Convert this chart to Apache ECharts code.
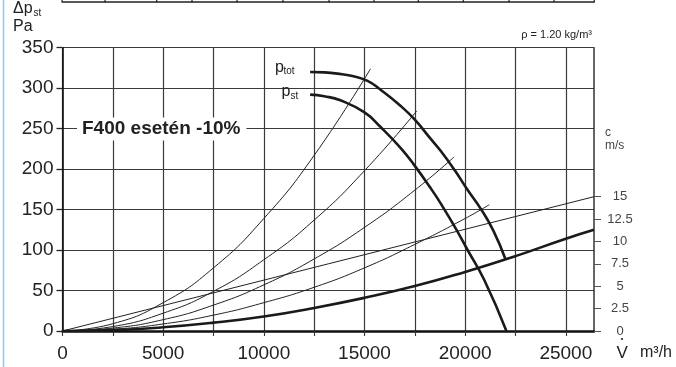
<!DOCTYPE html>
<html><head><meta charset="utf-8">
<script src="https://cdn.jsdelivr.net/npm/echarts@6/dist/echarts.min.js"></script>
<style>html,body{margin:0;padding:0;background:#fff}#c{width:676px;height:367px}</style>
</head><body><div id="c"></div>
<script>
// ---- data (flow V in m3/h, pressure in Pa, velocity in m/s) ----
const xTickLabels = [0, 5000, 10000, 15000, 20000, 25000];
const xTicks = [0, 2500, 5000, 7500, 10000, 12500, 15000, 17500, 20000, 22500, 25000];
const yTickLabels = [0, 50, 100, 150, 200, 250, 300, 350];
const cTickLabels = [0, 2.5, 5, 7.5, 10, 12.5, 15];

const pTot = [[12300,320],[13000,319.5],[13650,318],[14400,315],[15150,309],[15800,298],[16800,278],[17500,261],[18300,237],[18800,222],[19500,198],[20100,175],[20800,150],[21400,124],[22000,89]];
const pSt  = [[12300,292],[13000,290],[13800,285],[15000,270],[15800,252],[16800,226],[17500,204],[18300,176],[18800,157],[19500,128],[20100,101],[20950,63],[22050,0]];
const pDyn = [[0,0],[2500,1.1],[5000,4.6],[7500,10.3],[10000,18],[12500,28.5],[15000,41],[17500,55.5],[20000,73],[22500,92.5],[25000,114],[26400,125]];
const sysA = [[0,0],[2500,9],[5000,35],[7500,78],[10000,139],[12500,217],[15300,324]];
const sysB = [[0,0],[2500,5.5],[5000,22],[7500,49],[10000,88],[12500,137],[15000,198],[17600,272]];
const sysC = [[0,0],[2500,3.6],[5000,14],[7500,32],[10000,57],[12500,89],[15000,128],[17500,174],[19450,215]];
const sysD = [[0,0],[2500,2.2],[5000,8.7],[7500,19.6],[10000,35],[12500,54],[15000,78],[17500,107],[20000,139],[21200,156]];
const velocity = [[0,0],[26400,15]];

const FONT = '"Liberation Sans", Arial, Helvetica, sans-serif';
const chart = echarts.init(document.getElementById('c'), null, {renderer:'canvas'});

function thick(data){return {type:'line',data,showSymbol:false,smooth:0.5,lineStyle:{color:'#1a1a1a',width:2.6},z:5,silent:true};}
function thin(data){return {type:'line',data,showSymbol:false,smooth:0.5,lineStyle:{color:'#222',width:1},z:4,silent:true};}

const gridLine = {show:true,lineStyle:{color:'#3a3a3a',width:1.2}};
const tableX = [62,105,156.7,192,237,283,329,374,418.3,463.3,509,554,594.3];

const graphics = [
  {type:'line',shape:{x1:3.5,y1:0,x2:3.5,y2:367},style:{stroke:'#8ccff0',lineWidth:1.6}},
  {type:'line',shape:{x1:62,y1:2,x2:594.3,y2:2},style:{stroke:'#222',lineWidth:1.4}},
  ...tableX.map(x=>({type:'line',shape:{x1:x,y1:0,x2:x,y2:2.5},style:{stroke:'#222',lineWidth:1.2}})),
  {type:'text',x:13,y:9,style:{text:'Δp',font:'16px '+FONT,fill:'#222',verticalAlign:'middle'}},
  {type:'text',x:33.5,y:12.8,style:{text:'st',font:'10px '+FONT,fill:'#222',verticalAlign:'middle'}},
  {type:'text',x:13,y:26.2,style:{text:'Pa',font:'16px '+FONT,fill:'#222',verticalAlign:'middle'}},
  {type:'text',x:592,y:35.2,style:{text:'ρ = 1.20 kg/m³',font:'11px '+FONT,fill:'#222',align:'right',verticalAlign:'middle'}},
  {type:'text',x:77,y:129,style:{text:'F400 esetén -10%',font:'bold 19px '+FONT,fill:'#222',verticalAlign:'middle',backgroundColor:'#fff',padding:[2,6,2,5]}},
  {type:'text',x:275,y:67.1,style:{text:'p',font:'16px '+FONT,fill:'#222',verticalAlign:'middle'}},
  {type:'text',x:283.5,y:70.8,style:{text:'tot',font:'10px '+FONT,fill:'#222',verticalAlign:'middle'}},
  {type:'text',x:281.5,y:91.5,style:{text:'p',font:'16px '+FONT,fill:'#222',verticalAlign:'middle'}},
  {type:'text',x:290.5,y:95.8,style:{text:'st',font:'10px '+FONT,fill:'#222',verticalAlign:'middle'}},
  {type:'text',x:605,y:133,style:{text:'c',font:'12px '+FONT,fill:'#444',verticalAlign:'middle'}},
  {type:'text',x:605,y:145.8,style:{text:'m/s',font:'12px '+FONT,fill:'#444',verticalAlign:'middle'}},
  {type:'text',x:616.5,y:353,style:{text:'V',font:'17px '+FONT,fill:'#222',verticalAlign:'middle'}},
  {type:'circle',shape:{cx:622,cy:339,r:1.1},style:{fill:'#222'}},
  {type:'text',x:640,y:353,style:{text:'m³/h',font:'16px '+FONT,fill:'#222',verticalAlign:'middle'}}
];

chart.setOption({
  animation:false,
  backgroundColor:'#fff',
  grid:{left:62.5,right:82,top:47.7,bottom:36,containLabel:false},
  xAxis:{type:'value',min:0,max:26400,interval:2500,
    axisLine:{show:true,onZero:false,lineStyle:{color:'#111',width:2.6}},
    axisTick:{show:true,length:5,customValues:xTicks,lineStyle:{color:'#333',width:1.1}},
    axisLabel:{customValues:xTickLabels,fontSize:19,fontFamily:FONT,color:'#222',margin:13,formatter:v=>String(v)},
    splitLine:gridLine},
  yAxis:[
    {type:'value',min:0,max:350,interval:25,
      axisLine:{show:true,lineStyle:{color:'#111',width:1.6}},
      axisTick:{show:true,length:6,customValues:yTickLabels,lineStyle:{color:'#222',width:1.3}},
      axisLabel:{customValues:yTickLabels,fontSize:19,fontFamily:FONT,color:'#222',margin:9,formatter:v=>String(v)},
      splitLine:gridLine},
    {type:'value',position:'right',min:0,max:31.64,interval:2.5,
      axisLine:{show:true,lineStyle:{color:'#333',width:1.5}},
      axisTick:{show:true,length:7,customValues:cTickLabels,lineStyle:{color:'#555',width:1}},
      axisLabel:{customValues:cTickLabels,fontSize:13,fontFamily:FONT,color:'#444',margin:26,align:'center',formatter:v=>String(v)},
      splitLine:{show:false}}
  ],
  series:[
    thin(sysA),thin(sysB),thin(sysC),thin(sysD),
    Object.assign(thin(velocity),{yAxisIndex:1,smooth:false}),
    thick(pDyn),thick(pTot),thick(pSt)
  ],
  graphic:{elements:graphics.map(g=>Object.assign({z:100,silent:true},g))}
});
</script>
</body></html>
